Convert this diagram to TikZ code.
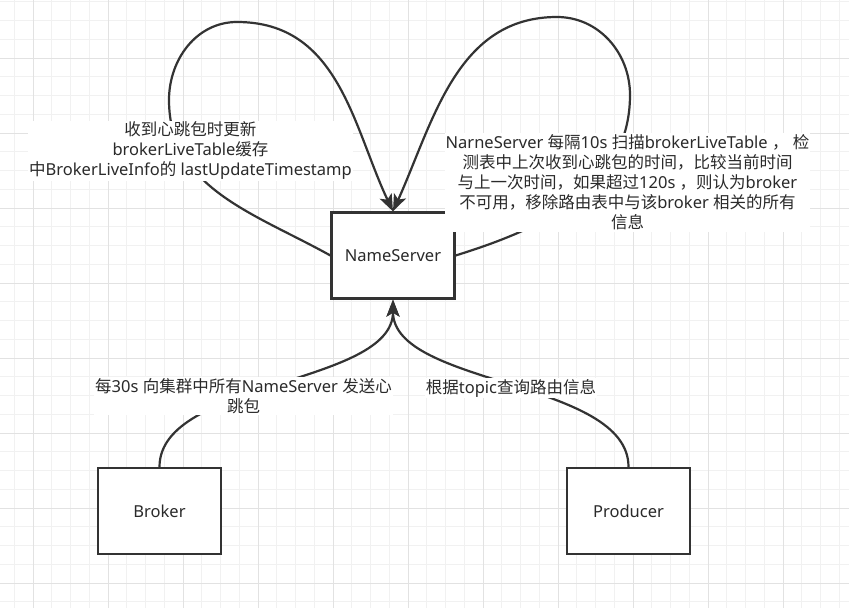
\documentclass[tikz,border=0pt]{standalone}
\usepackage{fontspec}
\setmainfont{Noto Sans}
\newfontfamily\cjkfont{Noto Sans CJK SC}
\newcommand\zh[1]{{\cjkfont #1}}
\usetikzlibrary{arrows.meta}
\definecolor{ink}{HTML}{333333}
\definecolor{textink}{HTML}{2A2A2A}
\definecolor{gridminor}{HTML}{F1F1F1}
\definecolor{gridmajor}{HTML}{E2E2E2}
\begin{document}
\begin{tikzpicture}[x=1pt,y=-1pt,
  font=\fontsize{16.5}{20}\selectfont,
  box/.style={draw=ink, line width=2.2pt, fill=white, minimum width=123pt,
    minimum height=86pt, inner sep=0pt, text=textink},
  lbl/.style={fill=white, text=textink, align=center, inner xsep=1pt, inner ysep=1.5pt},
  conn/.style={draw=ink, line width=2.2pt,
    -{Stealth[length=17pt,width=13pt,inset=4pt]}},
  minorline/.style={draw=gridminor, line width=1pt},
  majorline/.style={draw=gridmajor, line width=1pt}]
\useasboundingbox (0,0) rectangle (849,608);
\fill[white] (0,0) rectangle (849,608);
% grid
\foreach \i in {0,...,44} {\draw[minorline] ({14.25+18.75*\i},0) -- ++(0,608);}
\foreach \j in {0,...,32} {\draw[minorline] (0,{1.75+18.75*\j}) -- ++(849,0);}
\foreach \i in {0,...,10} {\draw[majorline] ({33+75*\i},0) -- ++(0,608);}
\foreach \j in {0,...,7} {\draw[majorline] (0,{58+75*\j}) -- ++(849,0);}

% boxes
\node[box] (ns) at (393,255.5) {NameServer};
\node[box] (br) at (159.5,511) {Broker};
\node[box] (pr) at (628.5,511) {Producer};

% waypoints of the self loops
\coordinate (l1) at (169,100);
\coordinate (l2) at (237,22);
\coordinate (r1) at (630,95);
\coordinate (r2) at (557,17);

% connectors
\draw[conn] (ns.west) .. controls (254,213) and (169,188) .. (l1)
  .. controls (169,59.5) and (196.5,22) .. (l2)
  .. controls (339,22) and (353,127) .. (ns.north);
\draw[conn] (ns.east) .. controls (544,228) and (630,188) .. (r1)
  .. controls (630,53) and (598.8,17) .. (r2)
  .. controls (457,17) and (433.7,120.6) .. (ns.north);
\draw[conn] (br.north) .. controls (159.5,380) and (393,386) .. (ns.south);
\draw[conn] (pr.north) .. controls (628.5,380) and (393,386) .. (ns.south);

% labels
\node[lbl] (t1) at (190.5,151) {\zh{收到心跳包时更新}\\
  brokerLiveTable\zh{缓存}\\
  \zh{中}BrokerLiveInfo\zh{的} lastUpdateTimestamp};
\node[lbl] (t2) at (627.5,182.5) {NarneServer \zh{每隔}10s \zh{扫描}brokerLiveTable \zh{，} \zh{检}\\
  \zh{测表中上次收到心跳包的时间，比较当前时间}\\
  \zh{与上一次时间，如果超过}120s \zh{，则认为}broker\\
  \zh{不可用，移除路由表中与该}broker \zh{相关的所有}\\
  \zh{信息}};
\node[lbl] (t3) at (243.5,396) {\zh{每}30s \zh{向集群中所有}NameServer \zh{发送心}\\
  \zh{跳包}};
\node[lbl] (t4) at (511,388) {\zh{根据}topic\zh{查询路由信息}};
\end{tikzpicture}
\end{document}
